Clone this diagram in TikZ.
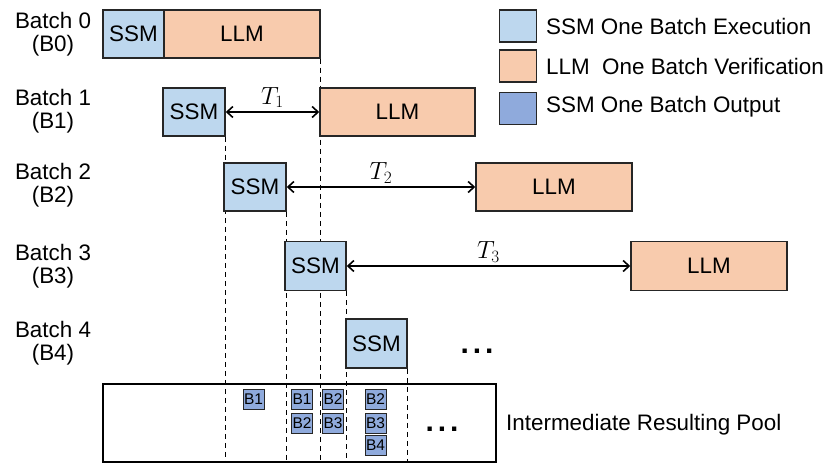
\documentclass[tikz,border=0pt]{standalone}
\usepackage{fontspec}
\setmainfont{Liberation Sans}
\usetikzlibrary{arrows.meta,backgrounds}
\definecolor{ssmc}{HTML}{BDD7EE}
\definecolor{llmc}{HTML}{F8CBAD}
\definecolor{outc}{HTML}{8FAADC}
\definecolor{edgec}{HTML}{262626}
\newcommand{\mydots}{{\fontsize{30}{30}\selectfont\bfseries .\kern4pt.\kern4pt.}}
\begin{document}
\begin{tikzpicture}[x=1pt,y=-1pt,
  box/.style={draw=edgec,line width=1.5pt,inner sep=0pt,font=\fontsize{22.4}{24}\selectfont},
  ssmbox/.style={box,fill=ssmc,minimum width=61pt,minimum height=48pt},
  llmbox/.style={box,fill=llmc,minimum width=156pt,minimum height=48pt},
  outbox/.style={draw=edgec,line width=0.9pt,fill=outc,inner sep=0pt,minimum width=21pt,minimum height=20pt,font=\fontsize{15.5}{15.5}\selectfont},
  legbox/.style={draw=edgec,line width=1.5pt,inner sep=0pt,minimum width=37pt,minimum height=32pt},
  lbl/.style={align=center,font=\fontsize{22.4}{23.5}\selectfont},
  legtxt/.style={anchor=west,inner sep=0pt,font=\fontsize{22.4}{24}\selectfont},
  gap/.style={<->,>={Straight Barb[length=6pt,width=11pt,line width=1.6pt]},line width=2pt},
  guide/.style={line width=1pt,dash pattern=on 5pt off 4pt},
  tl/.style={above,inner sep=3pt,font=\fontsize{23}{23}\selectfont},
  dotsn/.style={inner sep=0pt}]
\useasboundingbox (0,0) rectangle (830,468);

% row labels
\node[lbl] (l0) at (53,34) {Batch 0\\(B0)};
\node[lbl] (l1) at (53,111) {Batch 1\\(B1)};
\node[lbl] (l2) at (53,185) {Batch 2\\(B2)};
\node[lbl] (l3) at (53,266) {Batch 3\\(B3)};
\node[lbl] (l4) at (53,343) {Batch 4\\(B4)};

% batches
\node[ssmbox] (s0) at (133.5,34) {SSM};
\node[llmbox,minimum width=156pt] (m0) at (242,34) {LLM};
\node[ssmbox,minimum width=62pt] (s1) at (194,112) {SSM};
\node[llmbox,minimum width=155pt] (m1) at (397.5,112) {LLM};
\node[ssmbox,minimum width=62pt] (s2) at (255,187) {SSM};
\node[llmbox] (m2) at (554,187) {LLM};
\node[ssmbox,minimum height=49pt] (s3) at (315.5,266) {SSM};
\node[llmbox,minimum height=49pt] (m3) at (709,266) {LLM};
\node[ssmbox,minimum height=49pt] (s4) at (376.5,343.5) {SSM};
\node[dotsn,anchor=base] (d1) at (477,353) {\mydots};

% pool
\node[draw=black,line width=1.5pt,minimum width=393pt,minimum height=78pt,inner sep=0pt] (pool) at (299.5,423) {};
\node[outbox] (p11) at (253.5,399) {B1};
\node[outbox] (p21) at (302,399) {B1};
\node[outbox] (p22) at (302,423) {B2};
\node[outbox] (p31) at (333,399) {B2};
\node[outbox] (p32) at (333,423) {B3};
\node[outbox] (p41) at (375.5,399) {B2};
\node[outbox] (p42) at (375.5,423) {B3};
\node[outbox] (p43) at (375.5,445) {B4};
\node[dotsn,anchor=base] (d2) at (442,431) {\mydots};
\node[legtxt] (pooltxt) at (506,425) {Intermediate Resulting Pool};

% guides
\begin{pgfonlayer}{background}
\draw[guide] (s1.south east) -- (s1.south east |- pool.south);
\draw[guide] (s2.south east) -- (s2.south east |- pool.south);
\draw[guide] (m0.south east) -- (m0.south east |- pool.south);
\draw[guide] (s3.south east) -- (s3.south east |- pool.south);
\draw[guide] (s4.south east) -- (s4.south east |- pool.south);
\end{pgfonlayer}

% gaps
\draw[gap] (s1.east) -- (m1.west) node[tl,midway] {$T_1$};
\draw[gap] (s2.east) -- (m2.west) node[tl,midway] {$T_2$};
\draw[gap] (s3.east) -- (m3.west) node[tl,midway] {$T_3$};

% legend
\node[legbox,fill=ssmc] (k1) at (518,26) {};
\node[legbox,fill=llmc] (k2) at (518,66) {};
\node[legbox,fill=outc] (k3) at (518,108.5) {};
\node[legtxt] (t1) at (546,26) {SSM One Batch Execution};
\node[legtxt] (t2) at (546,66) {LLM\ \ One Batch Verification};
\node[legtxt] (t3) at (546,107) {SSM One Batch Output};
\end{tikzpicture}
\end{document}
